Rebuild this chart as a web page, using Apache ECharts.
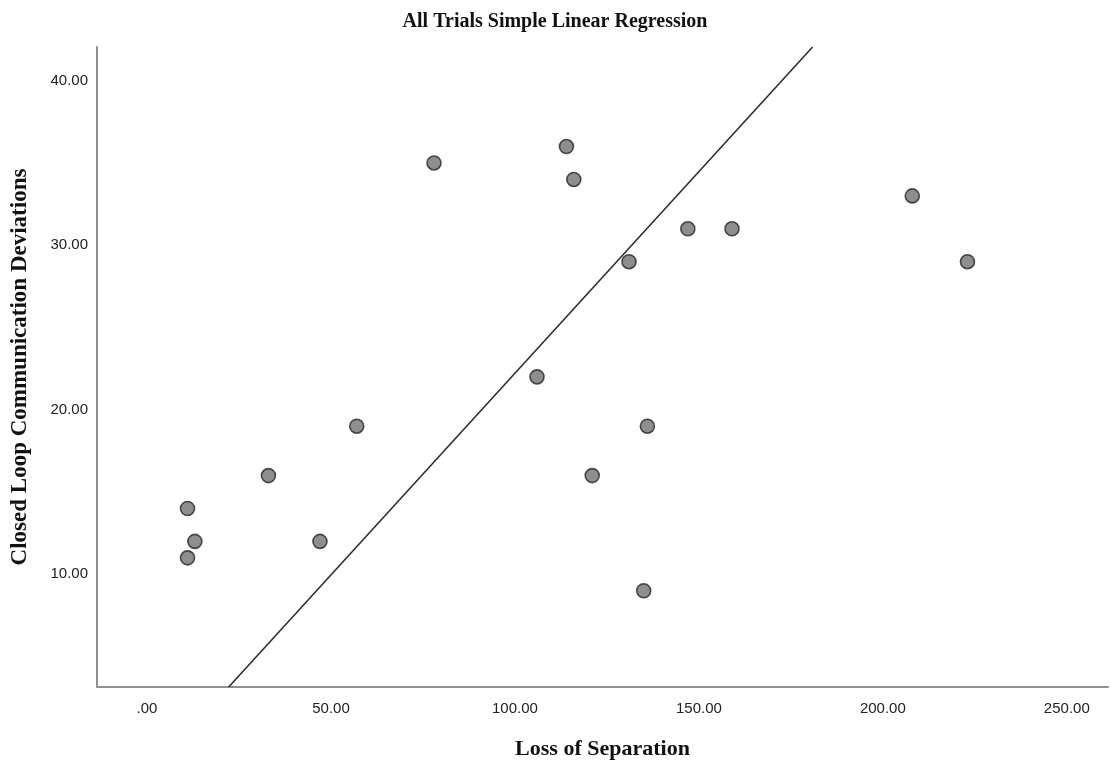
<!DOCTYPE html>
<html>
<head>
<meta charset="utf-8">
<script src="https://cdn.jsdelivr.net/npm/echarts@6/dist/echarts.min.js"></script>
<style>
  html, body { margin: 0; padding: 0; background: #fff; }
  #chart { width: 1110px; height: 765px; }
</style>
</head>
<body>
<div id="chart"></div>
<script>
// scatter data
const lossOfSeparation = [11, 13, 11, 33, 47, 57, 78, 106, 114, 116, 121, 131, 135, 136, 147, 159, 208, 223]
const clcDeviations    = [14, 12, 11, 16, 12, 19, 35, 22, 36, 34, 16, 29, 9, 19, 31, 31, 33, 29]

// fit line ends (where it meets the plot frame)
const fitX = [22.2, 180.9]
const fitY = [3.15, 42.05]

const xTicks = [0, 50, 100, 150, 200, 250]
const yTicks = [10, 20, 30, 40]

const points = lossOfSeparation.map((x, i) => [x, clcDeviations[i]])
const fitLine = fitX.map((x, i) => [x, fitY[i]])

const chart = echarts.init(document.getElementById('chart'))

const axisLineStyle = { color: '#8f8f8f', width: 2 }

chart.setOption({
  backgroundColor: '#fff',
  animation: false,
  title: {
    text: 'All Trials Simple Linear Regression',
    left: 'center',
    top: 7,
    textStyle: {
      fontFamily: 'Liberation Serif',
      fontWeight: 'bold',
      fontSize: 20,
      color: '#111'
    }
  },
  grid: { left: 97, right: 2, top: 47, bottom: 76 },
  xAxis: {
    type: 'value',
    min: -13.6,
    max: 261.2,
    name: 'Loss of Separation',
    nameLocation: 'middle',
    nameGap: 51,
    nameTextStyle: {
      fontFamily: 'Liberation Serif',
      fontWeight: 'bold',
      fontSize: 22,
      color: '#111'
    },
    axisLine: { show: true, onZero: false, lineStyle: axisLineStyle },
    axisTick: { show: false },
    splitLine: { show: false },
    axisLabel: {
      customValues: xTicks,
      margin: 14,
      fontFamily: 'Liberation Sans',
      fontSize: 15,
      color: '#222',
      formatter: v => (v === 0 ? '.00' : v.toFixed(2))
    }
  },
  yAxis: {
    type: 'value',
    min: 3.15,
    max: 42.05,
    name: 'Closed Loop Communication Deviations',
    nameLocation: 'middle',
    nameGap: 65,
    nameTextStyle: {
      fontFamily: 'Liberation Serif',
      fontWeight: 'bold',
      fontSize: 23,
      color: '#111'
    },
    axisLine: { show: true, onZero: false, lineStyle: axisLineStyle },
    axisTick: { show: false },
    splitLine: { show: false },
    axisLabel: {
      customValues: yTicks,
      margin: 9,
      fontFamily: 'Liberation Sans',
      fontSize: 15,
      color: '#222',
      formatter: v => v.toFixed(2)
    }
  },
  series: [
    {
      name: 'Fit',
      type: 'line',
      data: fitLine,
      symbol: 'none',
      z: 2,
      lineStyle: { color: '#2e2e2e', width: 1.6 }
    },
    {
      name: 'Trials',
      type: 'scatter',
      data: points,
      symbol: 'circle',
      symbolSize: 14,
      z: 3,
      itemStyle: {
        color: '#727272',
        borderColor: '#262626',
        borderWidth: 1.6
      }
    }
  ]
})
</script>
</body>
</html>
